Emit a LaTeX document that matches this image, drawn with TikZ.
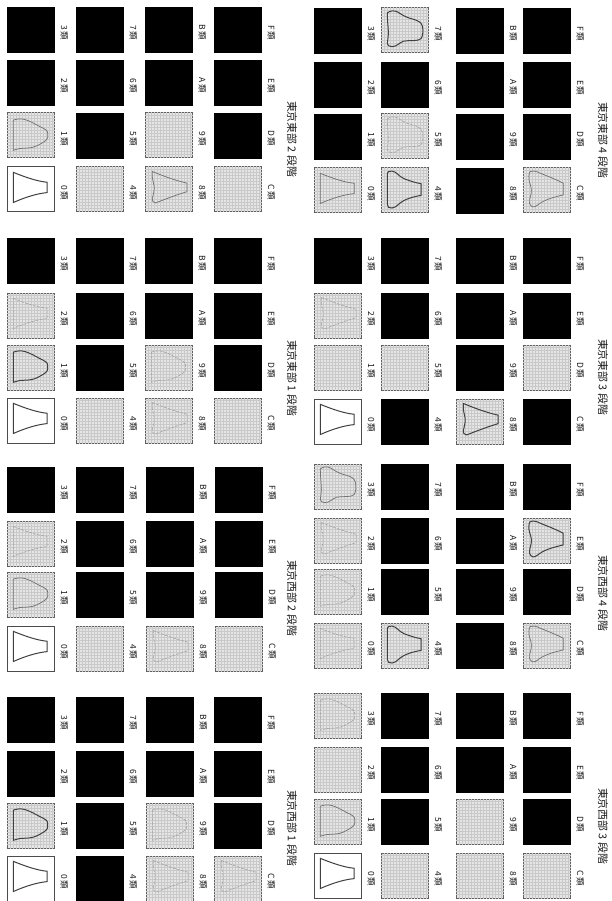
\documentclass[tikz,border=0pt]{standalone}
\usepackage{fontspec}
\setmainfont{Noto Sans CJK JP}
\tikzset{
  cellbase/.style={rectangle,inner sep=0pt,minimum width=47pt,minimum height=45pt},
  cellK/.style={cellbase,fill=black,draw=black,line width=.6pt},
  cellG/.style={cellbase,fill=gray!20,draw=gray!75!black,line width=1pt},
  cellW/.style={cellbase,fill=white,draw=gray!60!black,line width=1pt},
  gridline/.style={draw=gray!42,line width=.35pt},
  shs/.style={draw=black!75,line width=1pt},
  shm/.style={draw=black!55,line width=.75pt},
  shf/.style={draw=black!36,line width=.6pt,dash pattern=on 3pt off 1.2pt},
  shn/.style={},
  lab/.style={rotate=-90,font=\fontsize{8.5}{9}\selectfont,text=black!90,inner sep=0pt},
  ttl/.style={rotate=-90,font=\fontsize{10.8}{12}\selectfont,text=black!90,inner sep=0pt},
}
\def\shapeN{}
\def\shapeT{(14,13) .. controls (40,24) and (65,33) .. (86,35) -- (86,58) .. controls (65,60) and (40,68) .. (14,80) -- cycle}
\def\shapeB{(14,17) .. controls (22,14) and (30,13) .. (40,16) .. controls (52,20) and (62,27) .. (72,32) .. controls (80,36) and (87,40) .. (87,45) -- (87,56) .. controls (86,62) and (76,68) .. (62,75) .. controls (52,80) and (38,79) .. (28,80) .. controls (22,81) and (18,83) .. (14,84) -- cycle}
\def\shapeF{(14,16) .. controls (14,9) and (18,7) .. (24,8) .. controls (34,9) and (38,20) .. (50,25) .. controls (62,30) and (74,34) .. (86,36) -- (86,62) .. controls (74,64) and (62,67) .. (50,73) .. controls (38,79) and (34,89) .. (24,90) .. controls (18,91) and (14,88) .. (14,82) -- cycle}
\def\shapeW{(14,12) .. controls (20,7) and (28,6) .. (36,10) .. controls (44,15) and (50,21) .. (69,26) .. controls (78,29) and (86,32) .. (88,40) .. controls (91,50) and (90,62) .. (86,69) .. controls (80,76) and (60,72) .. (48,75) .. controls (40,78) and (34,87) .. (24,87) .. controls (18,87) and (14,84) .. (14,80) .. controls (15,70) and (17,60) .. (16,50) .. controls (15,35) and (14,25) .. (14,12) -- cycle}
\def\shapeL{(16,9) .. controls (24,6) and (32,10) .. (38,13) .. controls (52,19) and (70,26) .. (86,35) -- (86,61) .. controls (70,65) and (50,70) .. (36,80) .. controls (30,85) and (24,89) .. (20,87) .. controls (14,83) and (13,76) .. (15,70) .. controls (18,60) and (19,52) .. (18,46) .. controls (16,36) and (12,28) .. (13,20) .. controls (13,15) and (14,11) .. (16,9) -- cycle}
\def\shapeQ{(16,11) .. controls (30,17) and (60,30) .. (90,37) -- (90,56) .. controls (70,62) and (45,72) .. (23,81) .. controls (18,80) and (15,77) .. (16,72) .. controls (18,62) and (21,52) .. (20,44) .. controls (19,36) and (16,28) .. (16,22) -- cycle}
\newcommand\panel[7]{%
  \foreach \n/\k/\sh/\st [count=\ci from 0] in {#7}{%
    \pgfmathtruncatemacro\cc{floor(\ci/4)}%
    \pgfmathtruncatemacro\rr{mod(\ci,4)}%
    \pgfmathsetmacro\cx{{#2}[\cc]+23.75}%
    \pgfmathsetmacro\cy{{#3}[\rr]+22.5}%
    \pgfmathsetmacro\lx{\cx+33.5}%
    \pgfmathsetmacro\ly{\cy+3}%
    \node[cell\k] (#1-\n) at (\cx,\cy) {};
    \if G\k
      \foreach \d in {3,6,...,45}{\path[gridline] ([xshift=\d pt]#1-\n.north west) -- ([xshift=\d pt]#1-\n.south west);}
      \foreach \d in {3,6,...,42}{\path[gridline] ([yshift=-\d pt]#1-\n.north west) -- ([yshift=-\d pt]#1-\n.north east);}
    \fi
    \begin{scope}[shift={(#1-\n.north west)},x=.47pt,y=-.45pt]
      \path[sh\st] \csname shape\sh\endcsname;
    \end{scope}
    \node[lab] (#1-\n-label) at (\lx,\ly) {\n\,類};
  }
  \node[ttl] (#1-title) at (#5,#6) {#4};
}
\begin{document}
\begin{tikzpicture}[x=1pt,y=-1pt]
\useasboundingbox (0,0) rectangle (611,901);
\panel{a}{7,76,145,214}{167,113,60,7}{東京東部 2 段階}{292}{139}{
 0/W/T/s,1/G/B/m,2/K/N/n,3/K/N/n,
 4/G/N/n,5/K/N/n,6/K/N/n,7/K/N/n,
 8/G/Q/m,9/G/N/n,A/K/N/n,B/K/N/n,
 C/G/N/n,D/K/N/n,E/K/N/n,F/K/N/n}
\panel{b}{7,76,145,214}{398,345,293,238}{東京東部 1 段階}{292}{378}{
 0/W/T/s,1/G/B/s,2/G/T/f,3/K/N/n,
 4/G/N/n,5/K/N/n,6/K/N/n,7/K/N/n,
 8/G/Q/f,9/G/B/f,A/K/N/n,B/K/N/n,
 C/G/N/n,D/K/N/n,E/K/N/n,F/K/N/n}
\panel{c}{7,76,146,215}{626,572,521,467}{東京西部 2 段階}{292}{598}{
 0/W/T/s,1/G/B/m,2/G/T/f,3/K/N/n,
 4/G/N/n,5/K/N/n,6/K/N/n,7/K/N/n,
 8/G/Q/f,9/K/N/n,A/K/N/n,B/K/N/n,
 C/G/N/n,D/K/N/n,E/K/N/n,F/K/N/n}
\panel{d}{7,76,146,214}{856,803,751,697}{東京西部 1 段階}{292}{828}{
 0/W/T/s,1/G/B/s,2/K/N/n,3/K/N/n,
 4/K/N/n,5/K/N/n,6/K/N/n,7/K/N/n,
 8/G/Q/f,9/G/B/f,A/K/N/n,B/K/N/n,
 C/G/Q/f,D/K/N/n,E/K/N/n,F/K/N/n}
\panel{e}{314,381,456,523}{168,114,62,8}{東京東部 4 段階}{603}{140}{
 0/G/T/m,1/K/N/n,2/K/N/n,3/K/N/n,
 4/G/F/s,5/G/W/f,6/K/N/n,7/G/W/s,
 8/K/N/n,9/K/N/n,A/K/N/n,B/K/N/n,
 C/G/L/m,D/K/N/n,E/K/N/n,F/K/N/n}
\panel{f}{314,381,456,523}{399,345,293,238}{東京東部 3 段階}{603}{377}{
 0/W/T/s,1/G/N/n,2/G/Q/f,3/K/N/n,
 4/K/N/n,5/G/N/n,6/K/N/n,7/K/N/n,
 8/G/Q/s,9/K/N/n,A/K/N/n,B/K/N/n,
 C/K/N/n,D/G/N/n,E/K/N/n,F/K/N/n}
\panel{g}{314,381,456,523}{623,569,518,464}{東京西部 4 段階}{603}{593}{
 0/G/T/f,1/G/B/f,2/G/Q/f,3/G/W/m,
 4/G/F/s,5/K/N/n,6/K/N/n,7/K/N/n,
 8/K/N/n,9/K/N/n,A/K/N/n,B/K/N/n,
 C/G/L/m,D/K/N/n,E/G/L/s,F/K/N/n}
\panel{h}{314,381,456,523}{853,799,747,693}{東京西部 3 段階}{603}{826}{
 0/W/T/s,1/G/B/m,2/G/N/n,3/G/B/f,
 4/G/N/n,5/K/N/n,6/K/N/n,7/K/N/n,
 8/G/N/n,9/G/N/n,A/K/N/n,B/K/N/n,
 C/G/N/n,D/K/N/n,E/K/N/n,F/K/N/n}
\end{tikzpicture}
\end{document}
